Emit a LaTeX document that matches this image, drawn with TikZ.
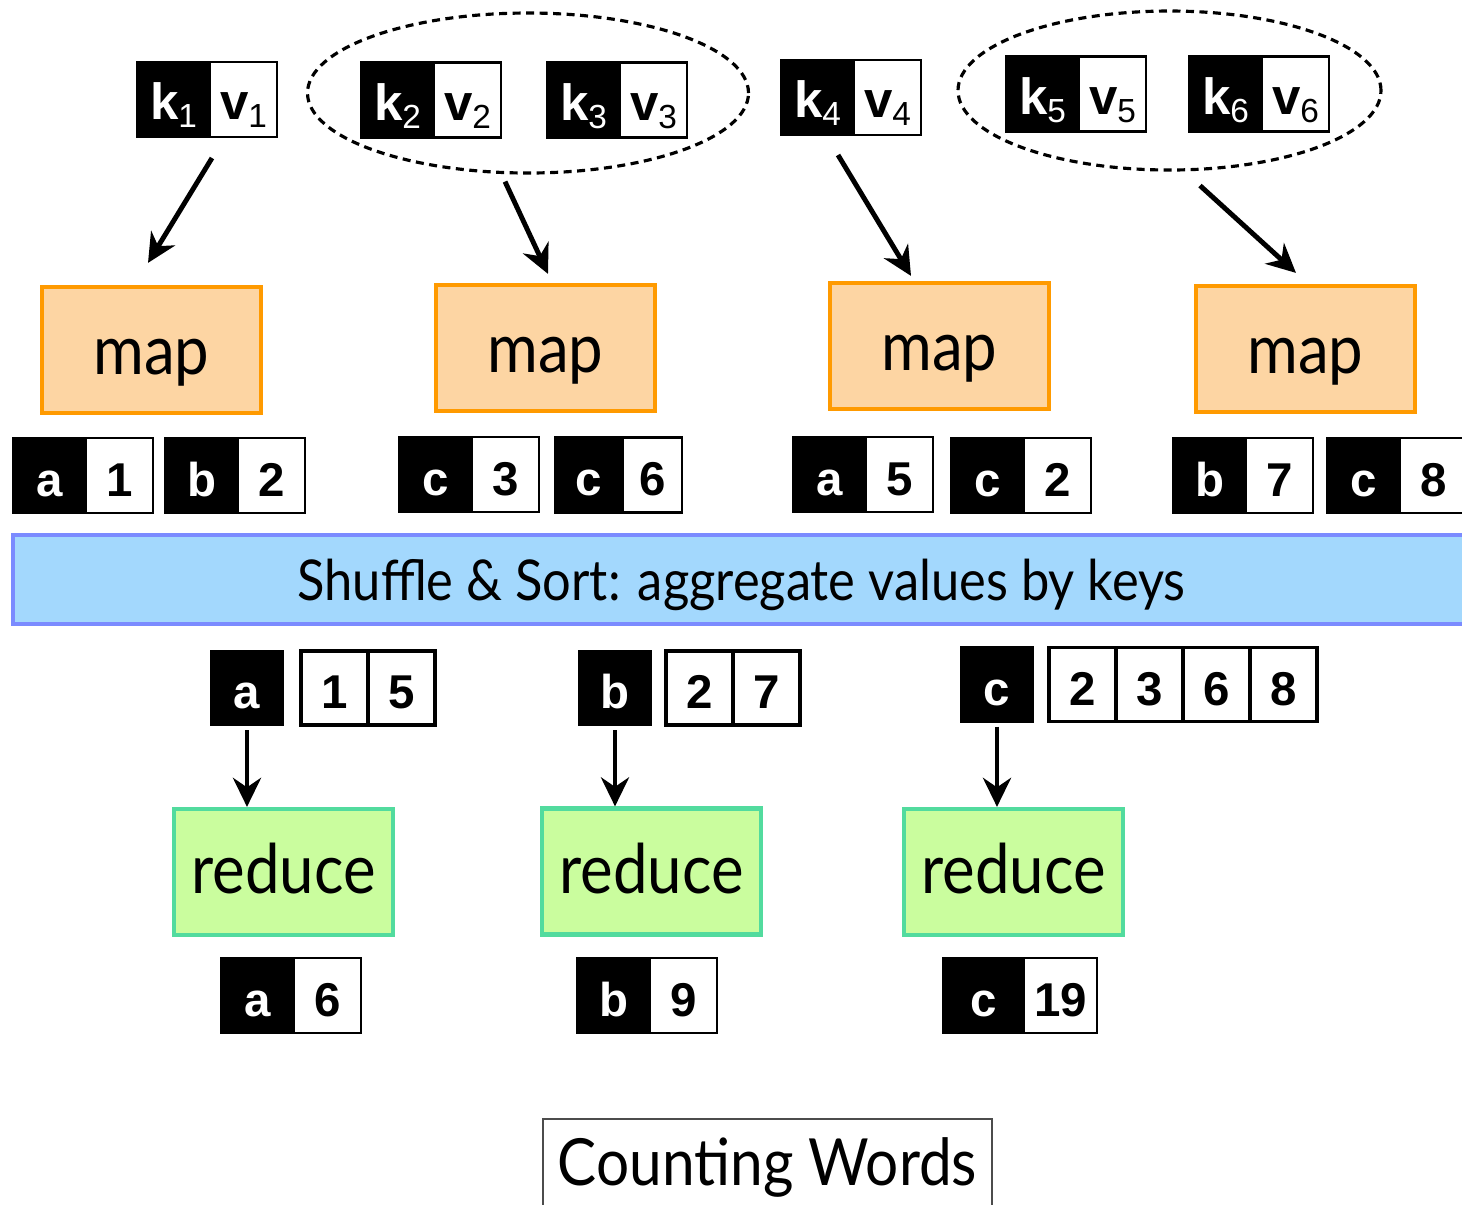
\documentclass[tikz,border=0pt]{standalone}
\usepackage{fontspec}
\usepackage{tikz}
\usetikzlibrary{arrows.meta,positioning,shapes.geometric}
\newfontfamily\helv{Liberation Sans}
\newfontfamily\gill[FakeStretch=0.9]{Lato}
\definecolor{MapBg}{HTML}{FDD5A3}
\definecolor{MapLine}{HTML}{FF9A00}
\definecolor{RedBg}{HTML}{CAFD9E}
\definecolor{RedLine}{HTML}{52DB9E}
\definecolor{ShufBg}{HTML}{A3D8FD}
\definecolor{ShufLine}{HTML}{7B8BFF}
\newcommand{\ix}[1]{\raisebox{-0.3ex}{\fontsize{9.5}{9.5}\selectfont\mdseries #1}}

\begin{document}
\begin{tikzpicture}[x=0.1mm, y=-0.1mm,
  kb/.style={draw, line width=0.6pt, fill=black, text=white, minimum width=7.3mm,
             minimum height=7.5mm, inner sep=0pt, outer sep=0pt, text height=4.1mm, text depth=0pt,
             font=\helv\bfseries\fontsize{13.5}{14}\selectfont},
  vb/.style={kb, fill=white, text=black, minimum width=6.7mm},
  lb/.style={vb, line width=1.1pt, minimum height=7.4mm},
  kvtop/.style={font=\helv\bfseries\fontsize{14.5}{15}\selectfont, text height=4mm},
  grp/.style={ellipse, draw, dash pattern=on 0.8mm off 0.55mm, line width=0.9pt, inner sep=0pt},
  mapbox/.style={rectangle, draw=MapLine, fill=MapBg, line width=1.2pt, minimum width=21.9mm,
                 minimum height=12.6mm, text height=4.9mm, text depth=0pt,
                 font=\gill\fontsize{19.5}{22}\selectfont},
  redbox/.style={mapbox, draw=RedLine, fill=RedBg, text height=4.3mm},
  arr/.style={-{Stealth[length=2.9mm,width=2.8mm]}, line width=1.4pt},
]
\useasboundingbox (0,0) rectangle (1462,1204);

% input records
\node[kb,kvtop,anchor=west] (k1) at (137,99.5)  {k\ix{1}};
\node[vb,kvtop,right=0pt of k1] (v1) {v\ix{1}};
\node[kb,kvtop,anchor=west] (k2) at (361,100)   {k\ix{2}};
\node[vb,kvtop,right=0pt of k2] (v2) {v\ix{2}};
\node[kb,kvtop,anchor=west] (k3) at (547,100)   {k\ix{3}};
\node[vb,kvtop,right=0pt of k3] (v3) {v\ix{3}};
\node[kb,kvtop,anchor=west] (k4) at (781,97.5)  {k\ix{4}};
\node[vb,kvtop,right=0pt of k4] (v4) {v\ix{4}};
\node[kb,kvtop,anchor=west] (k5) at (1006,94)   {k\ix{5}};
\node[vb,kvtop,right=0pt of k5] (v5) {v\ix{5}};
\node[kb,kvtop,anchor=west] (k6) at (1189,94)   {k\ix{6}};
\node[vb,kvtop,right=0pt of k6] (v6) {v\ix{6}};
\node[grp,minimum width=44.1mm,minimum height=16mm]   (grpA) at (528,93)     {};
\node[grp,minimum width=42.3mm,minimum height=15.9mm] (grpB) at (1169.5,90.5) {};

\node[mapbox] (map1) at (151.5,350) {map};
\node[mapbox] (map2) at (545.5,348) {map};
\node[mapbox] (map3) at (939.5,346) {map};
\node[mapbox] (map4) at (1305.5,349) {map};

\draw[arr] ([shift={(0.2mm,-2.1mm)}]v1.south west) -- ([shift={(-0.35mm,2.2mm)}]map1.north);
\draw[arr] ([shift={(-2.3mm,-0.7mm)}]grpA.south) -- ([shift={(0.25mm,0.9mm)}]map2.north);
\draw[arr] ([shift={(2.05mm,-2mm)}]k4.south)     -- ([shift={(-2.85mm,0.5mm)}]map3.north);
\draw[arr] ([shift={(3.05mm,-1.4mm)}]grpB.south) -- ([shift={(-0.95mm,1.1mm)}]map4.north);

% map output
\node[kb,anchor=west] (o1) at (13,475.5)   {a}; \node[vb,right=0pt of o1] (n1) {1};
\node[kb,anchor=west] (o2) at (165,475.5)  {b}; \node[vb,right=0pt of o2] (n2) {2};
\node[kb,anchor=west] (o3) at (399,474.5)  {c}; \node[vb,right=0pt of o3] (n3) {3};
\node[kb,anchor=west,minimum width=6.8mm] (o4) at (555,475) {c};
\node[vb,right=0pt of o4,minimum width=5.9mm] (n4) {6};
\node[kb,anchor=west] (o5) at (793,474.5)  {a}; \node[vb,right=0pt of o5] (n5) {5};
\node[kb,anchor=west] (o6) at (951,475.5)  {c}; \node[vb,right=0pt of o6] (n6) {2};
\node[kb,anchor=west] (o7) at (1173,475.5) {b}; \node[vb,right=0pt of o7] (n7) {7};
\node[kb,anchor=west] (o8) at (1327,475.5) {c}; \node[vb,right=0pt of o8] (n8) {8};

\node[rectangle, draw=ShufLine, fill=ShufBg, line width=1.2pt, minimum width=145.7mm,
      minimum height=8.9mm, text height=4.1mm, text depth=0pt, font=\gill\fontsize{16}{20}\selectfont]
     (shuf) at (741.5,579.5) {Shuffle \& Sort: aggregate values by keys};

% grouped values
\node[kb,anchor=west,minimum width=7.2mm,minimum height=7.4mm] (ra) at (211,688) {a};
\node[lb,right=1.8mm of ra] (ra1) {1};
\node[lb,right=0pt of ra1]  (ra2) {5};
\node[kb,anchor=west,minimum width=7.2mm,minimum height=7.4mm] (rb) at (579,688) {b};
\node[lb,right=1.5mm of rb] (rb1) {2};
\node[lb,right=0pt of rb1]  (rb2) {7};
\node[kb,anchor=west,minimum width=7.2mm,minimum height=7.4mm] (rc) at (961,684.5) {c};
\node[lb,right=1.6mm of rc] (rc1) {2};
\node[lb,right=0pt of rc1]  (rc2) {3};
\node[lb,right=0pt of rc2]  (rc3) {6};
\node[lb,right=0pt of rc3]  (rc4) {8};

\node[redbox] (red1) at (283.5,872)  {reduce};
\node[redbox] (red2) at (651.5,871.5) {reduce};
\node[redbox] (red3) at (1013.5,872) {reduce};

\draw[arr, shorten <=0.5mm] (ra) -- (ra |- red1.north);
\draw[arr, shorten <=0.5mm] (rb) -- (rb |- red2.north);
\draw[arr, shorten <=0.5mm] (rc) -- (rc |- red3.north);

% counts
\node[kb,anchor=west] (fa) at (221,995.5) {a}; \node[vb,right=0pt of fa] (fa1) {6};
\node[kb,anchor=west] (fb) at (577,995.5) {b}; \node[vb,right=0pt of fb] (fb1) {9};
\node[kb,anchor=west,minimum width=8.1mm] (fc) at (943,995.5) {c};
\node[vb,right=0pt of fc,minimum width=7.3mm] (fc1) {19};

\node[draw=black!70, line width=0.6pt, minimum width=44.9mm, inner ysep=0.5mm,
      text height=6.1mm, text depth=5mm, anchor=north, font=\gill\fontsize{18.5}{22}\selectfont]
     (title) at (767.5,1118) {Counting Words};
\end{tikzpicture}
\end{document}
